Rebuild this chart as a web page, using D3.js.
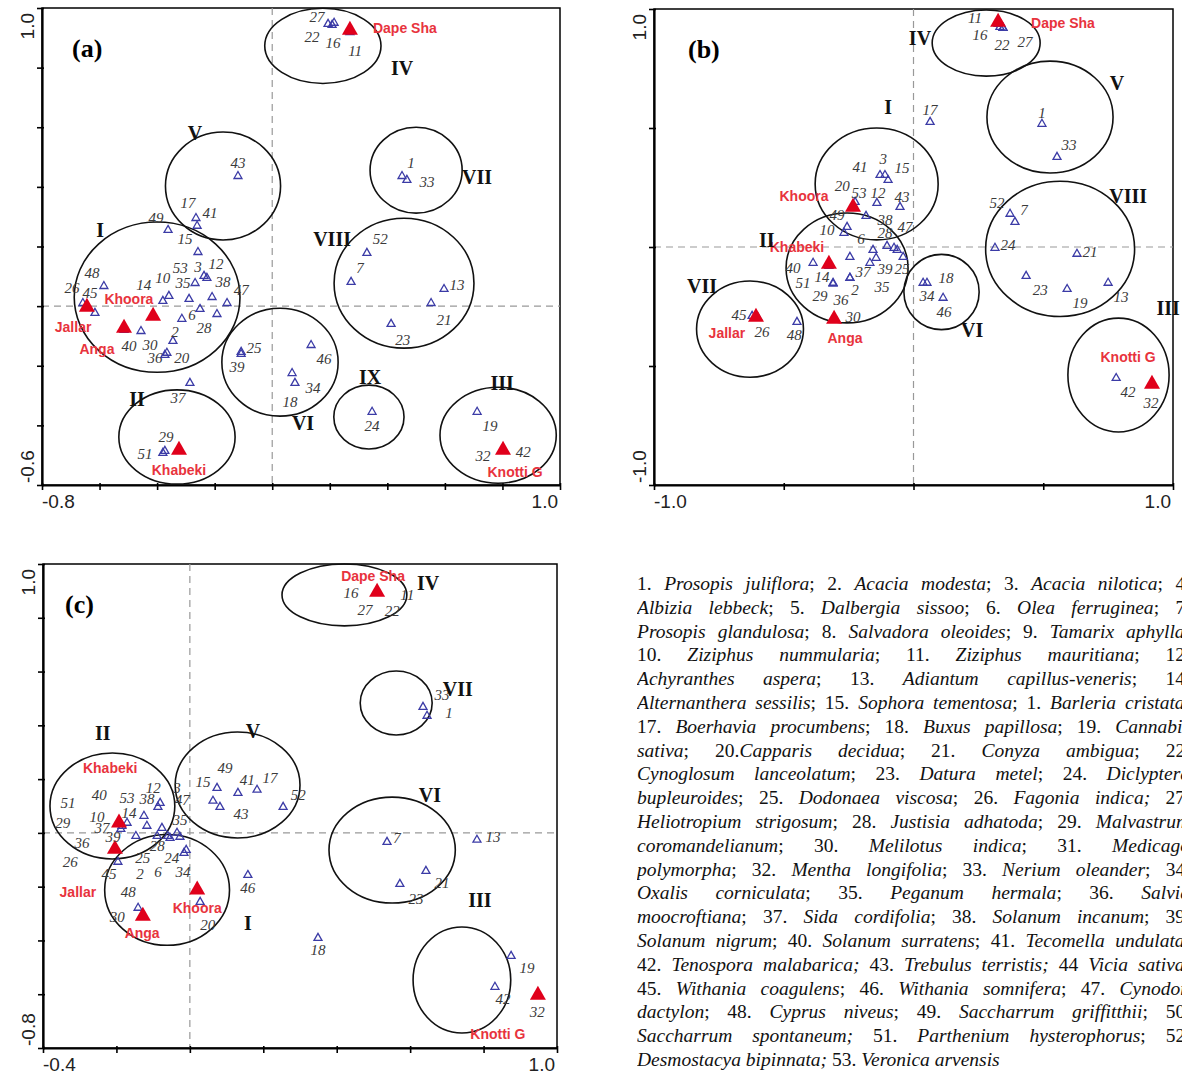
<!DOCTYPE html>
<html>
<head>
<meta charset="utf-8">
<script src="https://cdn.jsdelivr.net/npm/d3@7"></script>
<style>
  body { margin: 0; overflow: hidden; background: #fff; width: 1182px; height: 1078px; position: relative; }
  svg { position: absolute; left: 0; top: 0; }
  #legend { position: absolute; left: 637px; top: 572px; width: 553px;
    font-family: "Liberation Serif", "Times New Roman", serif; font-size: 19.5px;
    line-height: 23.8px; color: #111; }
  #legend div { text-align: justify; text-align-last: justify; height: 23.8px; overflow: hidden; }
  #legend div.last { text-align-last: left; }
</style>
</head>
<body>
<div id="legend"></div>
<script>
// species scores: [number, x, y, label x, label y]  (label null = no label)
const speciesA = [
  [1, 0.451, 0.436, 0.482, 0.480], [2, -0.345, -0.117, -0.338, -0.087],
  [3, -0.237, 0.101, -0.258, 0.131], [6, -0.314, -0.043, -0.279, -0.030],
  [7, 0.274, 0.081, 0.305, 0.128], [10, -0.359, 0.034, -0.380, 0.094],
  [11, 0.270, 0.919, 0.288, 0.856], [12, -0.227, 0.094, -0.195, 0.141],
  [13, 0.597, 0.057, 0.642, 0.071], [14, -0.380, 0.017, -0.446, 0.071],
  [15, -0.258, 0.181, -0.303, 0.225], [16, 0.208, 0.943, 0.211, 0.883],
  [17, -0.265, 0.295, -0.293, 0.346], [18, 0.079, -0.258, 0.062, -0.322],
  [19, 0.712, -0.355, 0.757, -0.402], [20, -0.366, -0.157, -0.314, -0.174],
  [21, 0.552, 0.010, 0.597, -0.047], [22, 0.194, 0.946, 0.138, 0.903],
  [23, 0.413, -0.060, 0.454, -0.114], [24, 0.347, -0.355, 0.347, -0.402],
  [25, -0.108, -0.154, -0.063, -0.141], [26, -0.658, 0.010, -0.696, 0.061],
  [27, 0.215, 0.950, 0.156, 0.970], [28, -0.192, -0.027, -0.237, -0.074],
  [29, -0.373, -0.486, -0.369, -0.439], [30, -0.456, -0.084, -0.425, -0.131],
  [32, 0.802, -0.483, 0.732, -0.503], [33, 0.468, 0.423, 0.538, 0.416],
  [34, 0.069, -0.225, 0.142, -0.275], [35, -0.268, 0.077, -0.310, 0.077],
  [36, -0.373, -0.164, -0.407, -0.174], [37, -0.286, -0.258, -0.327, -0.308],
  [38, -0.209, 0.030, -0.171, 0.081], [39, -0.108, -0.161, -0.122, -0.204],
  [40, -0.515, -0.080, -0.498, -0.134], [41, -0.261, 0.269, -0.216, 0.312],
  [42, 0.802, -0.483, 0.872, -0.490], [43, -0.119, 0.436, -0.119, 0.480],
  [45, -0.616, -0.023, -0.633, 0.044], [46, 0.135, -0.131, 0.180, -0.178],
  [47, -0.157, 0.010, -0.108, 0.054], [48, -0.585, 0.067, -0.626, 0.111],
  [49, -0.362, 0.255, -0.404, 0.295], [51, -0.380, -0.493, -0.442, -0.496],
  [52, 0.329, 0.178, 0.375, 0.225], [53, -0.289, 0.024, -0.320, 0.128],
  [8, -0.251, -0.010, null, null]
];
const sitesA = [
  ["Jallar", -0.644, -0.003, -0.692, -0.070], ["Anga", -0.515, -0.074, -0.609, -0.144],
  ["Khoora", -0.414, -0.033, -0.498, 0.024], ["Khabeki", -0.324, -0.483, -0.324, -0.550],
  ["Dape Sha", 0.270, 0.926, 0.461, 0.933], ["Knotti G", 0.802, -0.483, 0.844, -0.557]
];
// clusters: [name, centre x, centre y, radius x, radius y, label x, label y]
const clustersA = [
  ["I", -0.400, 0.030, 0.288, 0.252, -0.598, 0.255],
  ["II", -0.331, -0.439, 0.202, 0.158, -0.470, -0.312],
  ["III", 0.785, -0.433, 0.202, 0.161, 0.799, -0.258],
  ["IV", 0.176, 0.873, 0.202, 0.126, 0.451, 0.799],
  ["V", -0.171, 0.403, 0.200, 0.181, -0.268, 0.581],
  ["VI", 0.027, -0.188, 0.202, 0.181, 0.107, -0.392],
  ["VII", 0.500, 0.456, 0.160, 0.144, 0.712, 0.433],
  ["VIII", 0.458, 0.077, 0.243, 0.218, 0.208, 0.225],
  ["IX", 0.336, -0.372, 0.122, 0.107, 0.340, -0.238]
];

const speciesB = [
  [1, 0.495, 0.517, 0.495, 0.563], [2, -0.245, -0.130, -0.225, -0.181],
  [3, -0.129, 0.302, -0.117, 0.370], [6, -0.156, -0.013, -0.202, 0.034],
  [7, 0.391, 0.105, 0.426, 0.155], [10, -0.256, 0.084, -0.333, 0.071],
  [11, 0.326, 0.937, 0.237, 0.962], [12, -0.141, 0.185, -0.137, 0.227],
  [13, 0.750, -0.151, 0.800, -0.210], [14, -0.310, -0.151, -0.353, -0.126],
  [15, -0.098, 0.281, -0.044, 0.332], [16, 0.333, 0.924, 0.256, 0.891],
  [17, 0.064, 0.525, 0.064, 0.576], [18, 0.052, -0.151, 0.125, -0.130],
  [19, 0.592, -0.177, 0.642, -0.235], [20, -0.225, 0.189, -0.275, 0.256],
  [21, 0.630, -0.029, 0.680, -0.021], [22, 0.345, 0.920, 0.341, 0.849],
  [23, 0.434, -0.122, 0.488, -0.181], [24, 0.314, -0.004, 0.364, 0.008],
  [25, -0.040, -0.042, -0.044, -0.093], [26, -0.599, -0.298, -0.584, -0.357],
  [27, 0.345, 0.920, 0.430, 0.861], [28, -0.102, 0.004, -0.110, 0.059],
  [29, -0.310, -0.155, -0.360, -0.206], [30, -0.306, -0.303, -0.233, -0.294],
  [32, 0.919, -0.576, 0.915, -0.656], [33, 0.553, 0.378, 0.599, 0.429],
  [34, 0.037, -0.151, 0.052, -0.206], [35, -0.168, -0.067, -0.121, -0.168],
  [36, -0.245, -0.130, -0.279, -0.223], [37, -0.144, -0.046, -0.195, -0.105],
  [38, -0.183, 0.130, -0.110, 0.113], [39, -0.075, -0.004, -0.110, -0.093],
  [40, -0.387, -0.067, -0.464, -0.088], [41, -0.110, 0.302, -0.206, 0.336],
  [42, 0.781, -0.551, 0.827, -0.609], [43, -0.052, 0.168, -0.044, 0.210],
  [45, -0.622, -0.290, -0.672, -0.286], [46, 0.114, -0.214, 0.118, -0.273],
  [47, -0.063, -0.013, -0.033, 0.084], [48, -0.449, -0.315, -0.460, -0.370],
  [49, -0.268, 0.059, -0.295, 0.134], [51, -0.326, -0.080, -0.426, -0.151],
  [52, 0.372, 0.139, 0.322, 0.185], [53, -0.233, 0.168, -0.210, 0.227],
  [8, -0.245, -0.042, null, null]
];
const sitesB = [
  ["Khoora", -0.233, 0.168, -0.422, 0.214], ["Khabeki", -0.326, -0.072, -0.449, 0.000],
  ["Anga", -0.306, -0.303, -0.264, -0.382], ["Jallar", -0.607, -0.294, -0.719, -0.361],
  ["Dape Sha", 0.326, 0.945, 0.576, 0.941], ["Knotti G", 0.919, -0.576, 0.827, -0.462]
];
const clustersB = [
  ["I", -0.142, 0.265, 0.237, 0.235, -0.098, 0.588],
  ["II", -0.256, -0.088, 0.235, 0.231, -0.565, 0.029],
  ["III", 0.790, -0.538, 0.195, 0.239, 0.981, -0.256],
  ["IV", 0.280, 0.857, 0.208, 0.139, 0.025, 0.878],
  ["V", 0.526, 0.546, 0.243, 0.235, 0.784, 0.689],
  ["VI", 0.108, -0.189, 0.145, 0.158, 0.226, -0.349],
  ["VII", -0.630, -0.345, 0.206, 0.202, -0.815, -0.164],
  ["VIII", 0.565, -0.008, 0.287, 0.284, 0.827, 0.214]
];

const speciesC = [
  [1, 0.646, 0.435, 0.706, 0.446], [2, -0.060, -0.012, -0.136, -0.153],
  [3, -0.076, 0.018, -0.035, 0.167], [6, -0.054, -0.019, -0.087, -0.145],
  [7, 0.537, -0.034, 0.564, -0.019], [10, -0.185, 0.026, -0.253, 0.059],
  [11, 0.510, 0.896, 0.592, 0.885], [12, -0.081, 0.111, -0.100, 0.167],
  [13, 0.782, -0.026, 0.826, -0.015], [14, -0.125, 0.063, -0.166, 0.074],
  [15, 0.074, 0.167, 0.036, 0.189], [16, 0.510, 0.896, 0.439, 0.892],
  [17, 0.183, 0.160, 0.218, 0.204], [18, 0.349, -0.391, 0.349, -0.436],
  [19, 0.875, -0.458, 0.918, -0.502], [20, 0.028, -0.257, 0.049, -0.343],
  [21, 0.643, -0.142, 0.687, -0.186], [22, 0.510, 0.896, 0.551, 0.825],
  [23, 0.572, -0.190, 0.616, -0.246], [24, -0.016, -0.075, -0.049, -0.093],
  [25, -0.117, 0.026, -0.128, -0.093], [26, -0.204, -0.060, -0.326, -0.108],
  [27, 0.510, 0.896, 0.477, 0.829], [28, -0.089, -0.012, -0.089, -0.049],
  [29, -0.193, 0.037, -0.346, 0.037], [30, -0.128, -0.309, -0.198, -0.313],
  [32, 0.948, -0.603, 0.946, -0.666], [33, 0.635, 0.468, 0.687, 0.513],
  [34, -0.010, -0.064, -0.019, -0.145], [35, -0.027, -0.015, -0.027, 0.048],
  [36, -0.204, -0.060, -0.294, -0.038], [37, -0.188, 0.014, -0.239, 0.018],
  [38, -0.087, 0.096, -0.117, 0.126], [39, -0.147, -0.012, -0.209, -0.015],
  [40, -0.193, 0.037, -0.247, 0.141], [41, 0.131, 0.148, 0.156, 0.197],
  [42, 0.831, -0.573, 0.853, -0.618], [43, 0.082, 0.096, 0.139, 0.070],
  [45, -0.196, -0.108, -0.220, -0.153], [46, 0.158, -0.157, 0.158, -0.205],
  [47, -0.035, 0.000, -0.021, 0.122], [48, -0.141, -0.279, -0.168, -0.220],
  [49, 0.063, 0.119, 0.096, 0.241], [51, -0.193, 0.037, -0.332, 0.111],
  [52, 0.254, 0.096, 0.295, 0.141], [53, -0.171, 0.037, -0.171, 0.130]
];
const sitesC = [
  ["Khabeki", -0.193, 0.037, -0.217, 0.241], ["Jallar", -0.204, -0.060, -0.305, -0.220],
  ["Anga", -0.128, -0.309, -0.130, -0.372], ["Khoora", 0.020, -0.212, 0.020, -0.279],
  ["Dape Sha", 0.510, 0.896, 0.499, 0.955], ["Knotti G", 0.948, -0.603, 0.839, -0.748]
];
const clustersC = [
  ["I", -0.062, -0.212, 0.170, 0.206, 0.158, -0.335],
  ["II", -0.211, 0.100, 0.170, 0.197, -0.237, 0.371],
  ["III", 0.741, -0.547, 0.133, 0.197, 0.790, -0.250],
  ["IV", 0.421, 0.885, 0.170, 0.115, 0.649, 0.929],
  ["V", 0.130, 0.178, 0.170, 0.197, 0.172, 0.379],
  ["VI", 0.551, -0.064, 0.172, 0.197, 0.654, 0.141],
  ["VII", 0.562, 0.483, 0.098, 0.119, 0.730, 0.535]
];

// species key, _italic_ parts
const legendLines = [
  "1. _Prosopis juliflora_; 2. _Acacia modesta_; 3. _Acacia nilotica_; 4.",
  "_Albizia lebbeck_; 5. _Dalbergia sissoo_; 6. _Olea ferruginea_; 7.",
  "_Prosopis glandulosa_; 8. _Salvadora oleoides_; 9. _Tamarix aphylla_;",
  "10. _Ziziphus nummularia_; 11. _Ziziphus mauritiana_; 12.",
  "_Achyranthes aspera_; 13. _Adiantum capillus-veneris_; 14.",
  "_Alternanthera sessilis_; 15. _Sophora tementosa_; 1. _Barleria cristata_;",
  "17. _Boerhavia procumbens_; 18. _Buxus papillosa_; 19. _Cannabis_",
  "_sativa_; 20._Capparis decidua_; 21. _Conyza ambigua_; 22.",
  "_Cynoglosum lanceolatum_; 23. _Datura metel_; 24. _Diclyptera_",
  "_bupleuroides_; 25. _Dodonaea viscosa_; 26. _Fagonia indica;_ 27.",
  "_Heliotropium strigosum_; 28. _Justisia adhatoda_; 29. _Malvastrum_",
  "_coromandelianum_; 30. _Melilotus indica_; 31. _Medicago_",
  "_polymorpha_; 32. _Mentha longifolia_; 33. _Nerium oleander_; 34.",
  "_Oxalis corniculata_; 35. _Peganum hermala_; 36. _Salvia_",
  "_moocroftiana_; 37. _Sida cordifolia_; 38. _Solanum incanum_; 39.",
  "_Solanum nigrum_; 40. _Solanum surratens_; 41. _Tecomella undulata_;",
  "42. _Tenospora malabarica;_ 43. _Trebulus terristis;_ 44 _Vicia sativa_;",
  "45. _Withania coagulens_; 46. _Withania somnifera_; 47. _Cynodon_",
  "_dactylon_; 48. _Cyprus niveus_; 49. _Saccharrum griffitthii_; 50.",
  "_Saccharrum spontaneum;_ 51. _Parthenium hysterophorus_; 52.",
  "_Desmostacya bipinnata;_ 53. _Veronica arvensis_"
];

const svg = d3.select("body").append("svg")
  .attr("width", 1182)
  .attr("height", 1078);

function triPath(w, h) {
  return "M0," + (-h * 2 / 3) + "L" + (w / 2) + "," + (h / 3) + "L" + (-w / 2) + "," + (h / 3) + "Z";
}

function drawPanel(cfg, species, sites, clusters) {
  let [x0, y0, x1, y1] = cfg.box;
  let x = d3.scaleLinear().domain(cfg.xd).range([x0, x1]);
  let y = d3.scaleLinear().domain(cfg.yd).range([y1, y0]);
  let g = svg.append("g");
  // plain hyphen minus, as in the original
  let fmt = (v) => d3.format(".1f")(v).replace("\u2212", "-");

  // frame
  g.append("rect")
    .attr("x", x0).attr("y", y0)
    .attr("width", x1 - x0).attr("height", y1 - y0)
    .attr("fill", "none").attr("stroke", "#000").attr("stroke-width", 1.5);

  // zero lines
  g.append("line")
    .attr("x1", x(0)).attr("x2", x(0)).attr("y1", y0).attr("y2", y1)
    .attr("stroke", "#999").attr("stroke-width", 1.2).attr("stroke-dasharray", "7,5");
  g.append("line")
    .attr("x1", x0).attr("x2", x1).attr("y1", y(0)).attr("y2", y(0))
    .attr("stroke", "#999").attr("stroke-width", 1.2).attr("stroke-dasharray", "7,5");

  // axes
  let xt = d3.range(cfg.xn + 1).map((i) => cfg.xd[0] + i * cfg.xs);
  let yt = d3.range(cfg.yn + 1).map((i) => cfg.yd[0] + i * cfg.ys);
  let ax = g.append("g")
    .attr("transform", "translate(0," + y1 + ")")
    .call(d3.axisBottom(x).tickValues(xt).tickSize(5).tickSizeOuter(0).tickFormat(""));
  ax.selectAll(".tick line").attr("y1", -2).attr("stroke-width", 1.6);
  let ay = g.append("g")
    .attr("transform", "translate(" + x0 + ",0)")
    .call(d3.axisLeft(y).tickValues(yt).tickSize(5).tickSizeOuter(0).tickFormat(""));
  ay.selectAll(".tick line").attr("x1", 2).attr("stroke-width", 1.6);
  g.selectAll(".domain").attr("stroke-width", 2.2);

  // axis end labels
  let lab = g.append("g")
    .style("font-family", "'Liberation Sans', Arial, sans-serif")
    .style("font-size", "19px").attr("fill", "#222");
  lab.append("text").attr("x", x0).attr("y", y1 + 23).text(fmt(cfg.xd[0]));
  lab.append("text").attr("x", x1 - 2).attr("y", y1 + 23)
    .attr("text-anchor", "end").text(fmt(cfg.xd[1]));
  lab.append("text")
    .attr("transform", "translate(" + (x0 - 15) + "," + (y1 - 2) + ") rotate(-90)")
    .attr("dominant-baseline", "central").text(fmt(cfg.yd[0]));
  lab.append("text")
    .attr("transform", "translate(" + (x0 - 15) + "," + (y0 + 5) + ") rotate(-90)")
    .attr("dominant-baseline", "central").attr("text-anchor", "end").text(fmt(cfg.yd[1]));

  // cluster ellipses
  g.append("g").selectAll("ellipse")
    .data(clusters)
    .enter()
    .append("ellipse")
      .attr("cx", (d) => x(d[1]))
      .attr("cy", (d) => y(d[2]))
      .attr("rx", (d) => Math.abs(x(d[3]) - x(0)))
      .attr("ry", (d) => Math.abs(y(d[4]) - y(0)))
      .attr("fill", "none").attr("stroke", "#111").attr("stroke-width", 1.6);

  // species triangles
  g.append("g").selectAll("path")
    .data(species)
    .enter()
    .append("path")
      .attr("d", triPath(8, 7))
      .attr("transform", (d) => "translate(" + x(d[1]) + "," + y(d[2]) + ")")
      .attr("fill", "none").attr("stroke", "#3b3ba6").attr("stroke-width", 1.3);

  // site triangles
  g.append("g").selectAll("path")
    .data(sites)
    .enter()
    .append("path")
      .attr("d", triPath(16, 14))
      .attr("transform", (d) => "translate(" + x(d[1]) + "," + y(d[2]) + ")")
      .attr("fill", "#e0001b");

  // species numbers
  g.append("g")
    .style("font-family", "'Liberation Serif', 'Times New Roman', serif")
    .style("font-size", "15px").style("font-style", "italic")
    .selectAll("text")
    .data(species.filter((d) => d[3] !== null))
    .enter()
    .append("text")
      .attr("x", (d) => x(d[3]))
      .attr("y", (d) => y(d[4]))
      .attr("text-anchor", "middle").attr("dominant-baseline", "central")
      .attr("fill", "#3a3a3a")
      .text((d) => d[0]);

  // site names
  g.append("g")
    .style("font-family", "'Liberation Sans', Arial, sans-serif")
    .style("font-size", "14px").style("font-weight", "bold")
    .selectAll("text")
    .data(sites)
    .enter()
    .append("text")
      .attr("x", (d) => x(d[3]))
      .attr("y", (d) => y(d[4]))
      .attr("text-anchor", "middle").attr("dominant-baseline", "central")
      .attr("fill", "#e8333d")
      .text((d) => d[0]);

  // cluster numerals
  g.append("g")
    .style("font-family", "'Liberation Serif', 'Times New Roman', serif")
    .style("font-size", "20px").style("font-weight", "bold")
    .selectAll("text")
    .data(clusters)
    .enter()
    .append("text")
      .attr("x", (d) => x(d[5]))
      .attr("y", (d) => y(d[6]))
      .attr("text-anchor", "middle").attr("dominant-baseline", "central")
      .attr("fill", "#111")
      .text((d) => d[0]);

  // panel tag
  g.append("text")
    .attr("x", x0 + cfg.tagDx).attr("y", y0 + 49)
    .style("font-family", "'Liberation Serif', 'Times New Roman', serif")
    .style("font-size", "26px").style("font-weight", "bold")
    .text(cfg.tag);
}

drawPanel({ tag: "(a)", tagDx: 30, box: [42, 8, 560, 485],
  xd: [-0.8, 1.0], xs: 0.2, xn: 9, yd: [-0.6, 1.0], ys: 0.2, yn: 8 },
  speciesA, sitesA, clustersA);
drawPanel({ tag: "(b)", tagDx: 34, box: [654, 9, 1173, 485],
  xd: [-1.0, 1.0], xs: 0.5, xn: 4, yd: [-1.0, 1.0], ys: 0.5, yn: 4 },
  speciesB, sitesB, clustersB);
drawPanel({ tag: "(c)", tagDx: 22, box: [43, 564, 557, 1048],
  xd: [-0.4, 1.0], xs: 0.2, xn: 7, yd: [-0.8, 1.0], ys: 0.2, yn: 9 },
  speciesC, sitesC, clustersC);

// species key
let legend = d3.select("#legend");
legendLines.forEach((line, i) => {
  let div = legend.append("div").classed("last", i === legendLines.length - 1);
  line.split("_").forEach((part, j) => {
    if (!part) return;
    div.append("span")
      .style("font-style", j % 2 === 1 ? "italic" : "normal")
      .text(part);
  });
});
</script>
</body>
</html>
